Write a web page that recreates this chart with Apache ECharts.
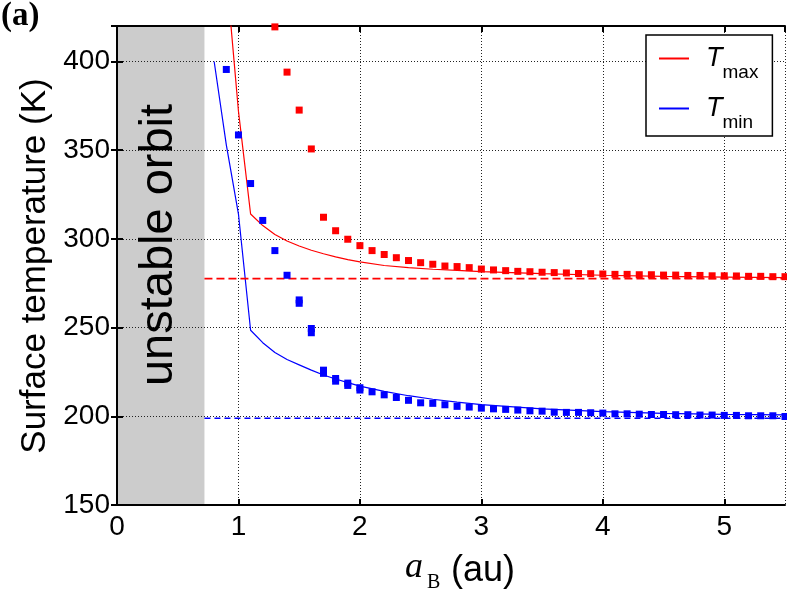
<!DOCTYPE html>
<html>

<head>
    <meta charset="utf-8">
    <script src="https://cdn.jsdelivr.net/npm/echarts@6/dist/echarts.min.js"></script>
    <title>Surface temperature</title>
</head>

<body style="margin:0">
    <div id="main" style="width:787px; height:611px;"></div>
    <script type="text/javascript">
        // model curves (au, K)
        var curveA   = [0.8, 0.9, 1.0, 1.1, 1.2, 1.3, 1.4, 1.5, 1.6, 1.7, 1.8, 1.9, 2.0, 2.2, 2.4, 2.6, 2.8, 3.0, 3.5, 4.0, 4.5, 5.0, 5.5];
        var maxCurve = ['-', 450, 372, 314, 307.5, 302.5, 298.8, 296, 293.6, 291.6, 289.9, 288.3, 287, 285, 283.8, 282.9, 282.2, 281.6, 280.4, 279.5, 278.9, 278.5, 278.2];
        var minCurve = [400, 353, 314, 248.5, 241.5, 236, 232, 229, 226, 223.3, 221, 219, 217, 214, 211.6, 209.6, 208, 206.6, 204.2, 202.6, 201.7, 201.1, 200.8];

        // simulated points
        var maxPtA = [1.3, 1.4, 1.5, 1.6, 1.7, 1.8, 1.9, 2.0, 2.1, 2.2, 2.3, 2.4, 2.5, 2.6, 2.7, 2.8, 2.9, 3.0, 3.1, 3.2, 3.3, 3.4, 3.5, 3.6, 3.7, 3.8, 3.9, 4.0, 4.1, 4.2, 4.3, 4.4, 4.5, 4.6, 4.7, 4.8, 4.9, 5.0, 5.1, 5.2, 5.3, 5.4, 5.5];
        var maxPt  = [419.5, 394, 372.6, 350.7, 312.2, 304.6, 299.8, 296.2, 293.4, 291.2, 289.4, 287.8, 286.6, 285.7, 284.7, 284.4, 283.8, 283.0, 282.5, 282.1, 281.7, 281.5, 281.2, 281.0, 280.8, 280.5, 280.4, 280.2, 280.0, 280.0, 279.8, 279.8, 279.6, 279.6, 279.4, 279.4, 279.2, 279.2, 279.1, 278.9, 278.9, 278.7, 278.7];
        var minPtA = [0.9, 1.0, 1.1, 1.2, 1.3, 1.4, 1.5, 1.6, 1.7, 1.8, 1.9, 2.0, 2.1, 2.2, 2.3, 2.4, 2.5, 2.6, 2.7, 2.8, 2.9, 3.0, 3.1, 3.2, 3.3, 3.4, 3.5, 3.6, 3.7, 3.8, 3.9, 4.0, 4.1, 4.2, 4.3, 4.4, 4.5, 4.6, 4.7, 4.8, 4.9, 5.0, 5.1, 5.2, 5.3, 5.4, 5.5];
        var minPt  = [395.5, 358.6, 331.2, 310.4, 293.4, 279.5, 265.6, 249.5, 226.0, 221.3, 218.7, 216.1, 213.8, 212.1, 210.6, 209.0, 207.6, 207.3, 206.5, 205.6, 205.2, 204.6, 204.2, 203.9, 203.5, 203.1, 202.9, 202.3, 202.2, 202.2, 202.0, 201.8, 201.4, 201.4, 201.2, 201.0, 201.0, 200.9, 200.9, 200.7, 200.7, 200.5, 200.5, 200.3, 200.3, 200.3, 199.9];
        var minPt2A = [1.5, 1.6, 1.7, 1.8, 1.9, 2.0];
        var minPt2  = [263.7, 247.1, 224.2, 219.8, 217.4, 214.8];

        // reference levels and unstable zone
        var refA = [0.72, 5.5];
        var maxRef = 277.6;
        var minRef = 198.9;
        var unstable = [0, 0.72];

        // axes
        var xMin = 0, xMax = 5.5, xStep = 1;
        var yMin = 150, yMax = 420, yStep = 50;

        function zip(a, b) {
            var out = [];
            for (var i = 0; i < a.length; i++) out.push([a[i], b[i]]);
            return out;
        }
        function flat(a, v) {
            return a.map(function (x) { return [x, v]; });
        }

        var myChart = echarts.init(document.getElementById('main'));

        var tickFont = { fontFamily: 'Liberation Sans', fontSize: 28, color: '#000' };
        var frame = { show: true, lineStyle: { color: '#000', width: 2 } };
        var tick = { show: true, inside: true, length: 6, lineStyle: { color: '#000', width: 2 } };
        var grid = { show: true, lineStyle: { color: '#222', width: 1, type: [1, 2] } };

        var option = {
            animation: false,
            backgroundColor: '#fff',
            grid: { left: 117, right: 2, top: 26, bottom: 106, outerBoundsMode: 'none' },
            xAxis: [
                {
                    type: 'value', min: xMin, max: xMax, interval: xStep, position: 'bottom',
                    axisLine: frame, axisTick: tick, splitLine: grid,
                    axisLabel: Object.assign({ margin: 8, showMaxLabel: false }, tickFont)
                },
                {
                    type: 'value', min: xMin, max: xMax, interval: xStep, position: 'top',
                    axisLine: frame, axisTick: tick, splitLine: { show: false }, axisLabel: { show: false }
                }
            ],
            yAxis: [
                {
                    type: 'value', min: yMin, max: yMax, interval: yStep, position: 'left',
                    axisLine: frame, axisTick: tick, splitLine: grid,
                    axisLabel: Object.assign({ margin: 7, showMaxLabel: false }, tickFont)
                },
                {
                    type: 'value', min: yMin, max: yMax, interval: yStep, position: 'right',
                    axisLine: frame, axisTick: tick, splitLine: { show: false }, axisLabel: { show: false }
                }
            ],
            legend: {
                data: ['Tmax', 'Tmin'],
                orient: 'vertical',
                left: 646, top: 35,
                padding: [0, 14, 4, 13],
                itemGap: 3,
                itemWidth: 30, itemHeight: 2,
                icon: 'rect',
                backgroundColor: '#fff',
                borderColor: '#000', borderWidth: 1.5,
                formatter: function (name) {
                    return '{t|T}{s|' + name.slice(1) + '}';
                },
                textStyle: {
                    rich: {
                        t: { fontFamily: 'Liberation Sans', fontStyle: 'italic', fontSize: 27, lineHeight: 27, color: '#000', padding: [0, 0, 0, 12] },
                        s: { fontFamily: 'Liberation Sans', fontSize: 19, lineHeight: 19, color: '#000', padding: [28, 0, 0, 0] }
                    }
                }
            },
            graphic: [
                { type: 'text', left: 1, top: 0, style: { text: '(a)', font: 'bold 33px "Liberation Serif"', fill: '#000' } },
                {
                    type: 'text', x: 35, y: 266, rotation: Math.PI / 2,
                    style: { text: 'Surface temperature (K)', font: '35px "Liberation Sans"', fill: '#000', align: 'center', verticalAlign: 'middle' }
                },
                {
                    type: 'text', x: 159, y: 245, rotation: Math.PI / 2, z: 10,
                    style: { text: 'unstable orbit', font: '47px "Liberation Sans"', fill: '#000', align: 'center', verticalAlign: 'middle' }
                },
                { type: 'text', x: 405, y: 568, style: { text: 'a', font: 'italic 36px "Liberation Serif"', fill: '#000', align: 'left', verticalAlign: 'middle' } },
                { type: 'text', x: 427, y: 583, style: { text: 'B', font: '20px "Liberation Serif"', fill: '#000', align: 'left', verticalAlign: 'middle' } },
                { type: 'text', x: 451, y: 571, style: { text: '(au)', font: '36px "Liberation Sans"', fill: '#000', align: 'left', verticalAlign: 'middle' } }
            ],
            series: [
                {
                    name: 'unstable', type: 'line', data: [], silent: true,
                    markArea: {
                        silent: true, z: -1,
                        itemStyle: { color: '#cccccc' },
                        data: [[{ xAxis: unstable[0] }, { xAxis: unstable[1] }]]
                    }
                },
                {
                    name: 'Tmax', type: 'line', data: zip(curveA, maxCurve), showSymbol: false, color: '#ff0000',
                    lineStyle: { color: '#ff0000', width: 1.2 }, z: 3
                },
                {
                    name: 'Tmin', type: 'line', data: zip(curveA, minCurve), showSymbol: false, color: '#0000ff',
                    lineStyle: { color: '#0000ff', width: 1.2 }, z: 3
                },
                {
                    name: 'Tmax ref', type: 'line', data: flat(refA, maxRef), showSymbol: false,
                    lineStyle: { color: '#ff0000', width: 1.6, type: [8, 4] }, z: 3
                },
                {
                    name: 'Tmin ref', type: 'line', data: flat(refA, minRef), showSymbol: false,
                    lineStyle: { color: '#0000ff', width: 1.6, type: [6, 4] }, z: 3
                },
                {
                    name: 'Tmax pts', type: 'scatter', data: zip(maxPtA, maxPt), symbol: 'rect', symbolSize: 7,
                    itemStyle: { color: '#ff0000', opacity: 1 }, z: 4
                },
                {
                    name: 'Tmin pts', type: 'scatter', data: zip(minPtA, minPt), symbol: 'rect', symbolSize: 7,
                    itemStyle: { color: '#0000ff', opacity: 1 }, z: 4
                },
                {
                    name: 'Tmin pts 2', type: 'scatter', data: zip(minPt2A, minPt2), symbol: 'rect', symbolSize: 7,
                    itemStyle: { color: '#0000ff', opacity: 1 }, z: 4
                }
            ]
        };

        myChart.setOption(option);
    </script>
</body>

</html>
